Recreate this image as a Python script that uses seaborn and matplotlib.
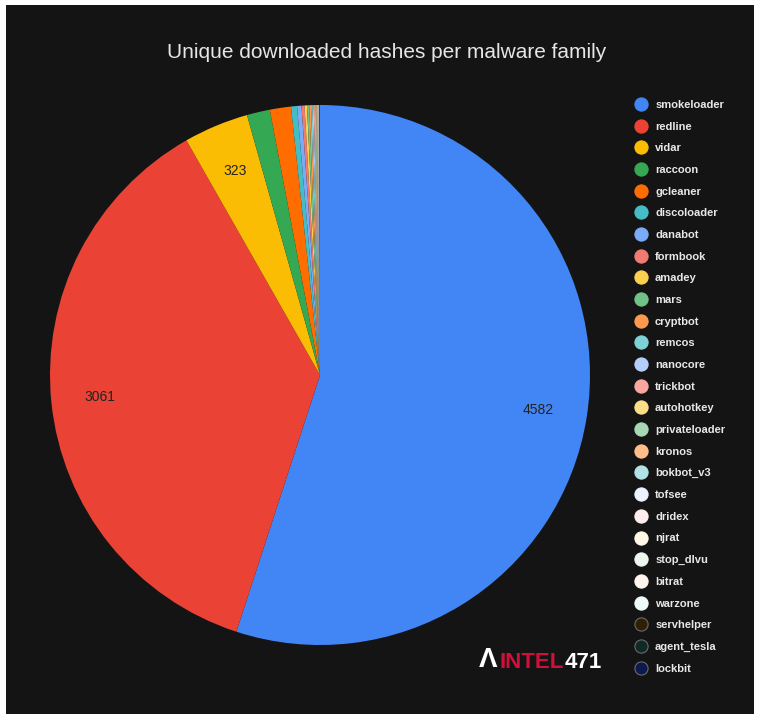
import matplotlib
matplotlib.use("Agg")
import matplotlib.pyplot as plt
from matplotlib.lines import Line2D
from matplotlib.patches import Rectangle
import seaborn as sns

families = ["smokeloader", "redline", "vidar", "raccoon", "gcleaner", "discoloader",
            "danabot", "formbook", "amadey", "mars", "cryptbot", "remcos", "nanocore",
            "trickbot", "autohotkey", "privateloader", "kronos", "bokbot_v3", "tofsee",
            "dridex", "njrat", "stop_dlvu", "bitrat", "warzone", "servhelper",
            "agent_tesla", "lockbit"]
hashes = [4582, 3061, 323, 115, 105, 30, 22, 15, 12, 11, 9, 7, 6, 5, 4, 4, 3, 3,
          2, 2, 2, 1, 1, 1, 1, 1, 1]
colors_hex = ["#4285F4", "#EA4335", "#FBBC04", "#34A853", "#FF6D01", "#46BDC6",
              "#7BAAF7", "#F07B72", "#FCD04F", "#71C287", "#FF994D", "#7ED1D7",
              "#B3CEFB", "#F7A7A0", "#FDDE88", "#A6D8B3", "#FFBD8A", "#B1E3E6",
              "#ECF3FE", "#FDEDEC", "#FFF8E5", "#EEF6F0", "#FFF5EE", "#F0F9F9",
              "#2D2005", "#0E2A26", "#0D1A4D"]
title = "Unique downloaded hashes per malware family"

sns.set_theme(style="dark")
plt.rcParams["font.family"] = ["Liberation Sans", "DejaVu Sans"]
palette = sns.color_palette(colors_hex)

W, H = 761, 714
fig = plt.figure(figsize=(W / 100, H / 100), dpi=100)
fig.patch.set_facecolor("white")
bg = "#141414"
fig.add_artist(Rectangle((6 / W, 0), (754 - 6) / W, (H - 5) / H,
                         transform=fig.transFigure, facecolor=bg, edgecolor="none", zorder=0))

ax = fig.add_axes([50 / W, (H - 645) / H, 540 / W, 540 / H])
ax.set_facecolor("none")
total = sum(hashes)


def fmt(pct):
    v = int(round(pct * total / 100.0))
    return str(v) if v >= 300 else ""


wedges, _, autotexts = ax.pie(hashes, colors=palette, startangle=90, counterclock=False,
                              autopct=fmt, pctdistance=0.82,
                              wedgeprops=dict(linewidth=0, edgecolor="none"),
                              textprops=dict(color="#222222", fontsize=10))
ax.set_aspect("equal")
ax.set_xlim(-1, 1)
ax.set_ylim(-1, 1)
ax.axis("off")

fig.text(387 / W, 1 - 52 / H, title, ha="center", va="center", fontsize=15,
         color="#E6E6E6")

handles = []
dark_set = {"servhelper", "agent_tesla", "lockbit"}
for name, c in zip(families, palette):
    ec = "#6a6a6a" if name in dark_set else c
    handles.append(Line2D([], [], linestyle="none", marker="o", markersize=9.5,
                          markerfacecolor=c, markeredgecolor=ec, markeredgewidth=0.8,
                          label=name))
leg = fig.legend(handles=handles, loc="upper left",
                 bbox_to_anchor=(634 / W, 1 - 100 / H), frameon=False,
                 prop=dict(weight="bold", size=8), labelcolor="#E8E8E8",
                 labelspacing=1.05, handletextpad=0.7, handlelength=1.2,
                 borderpad=0, borderaxespad=0)

fig.text(479 / W, 1 - 660 / H, "Λ", ha="left", va="center", fontsize=20,
         color="white", fontweight="bold")
fig.text(499 / W, 1 - 662 / H, "INTEL", ha="left", va="center", fontsize=16,
         color="#D0103A", fontweight="bold")
fig.text(565 / W, 1 - 662 / H, "471", ha="left", va="center", fontsize=16,
         color="white", fontweight="bold")

fig.savefig("out.png", dpi=100, facecolor=fig.get_facecolor())
